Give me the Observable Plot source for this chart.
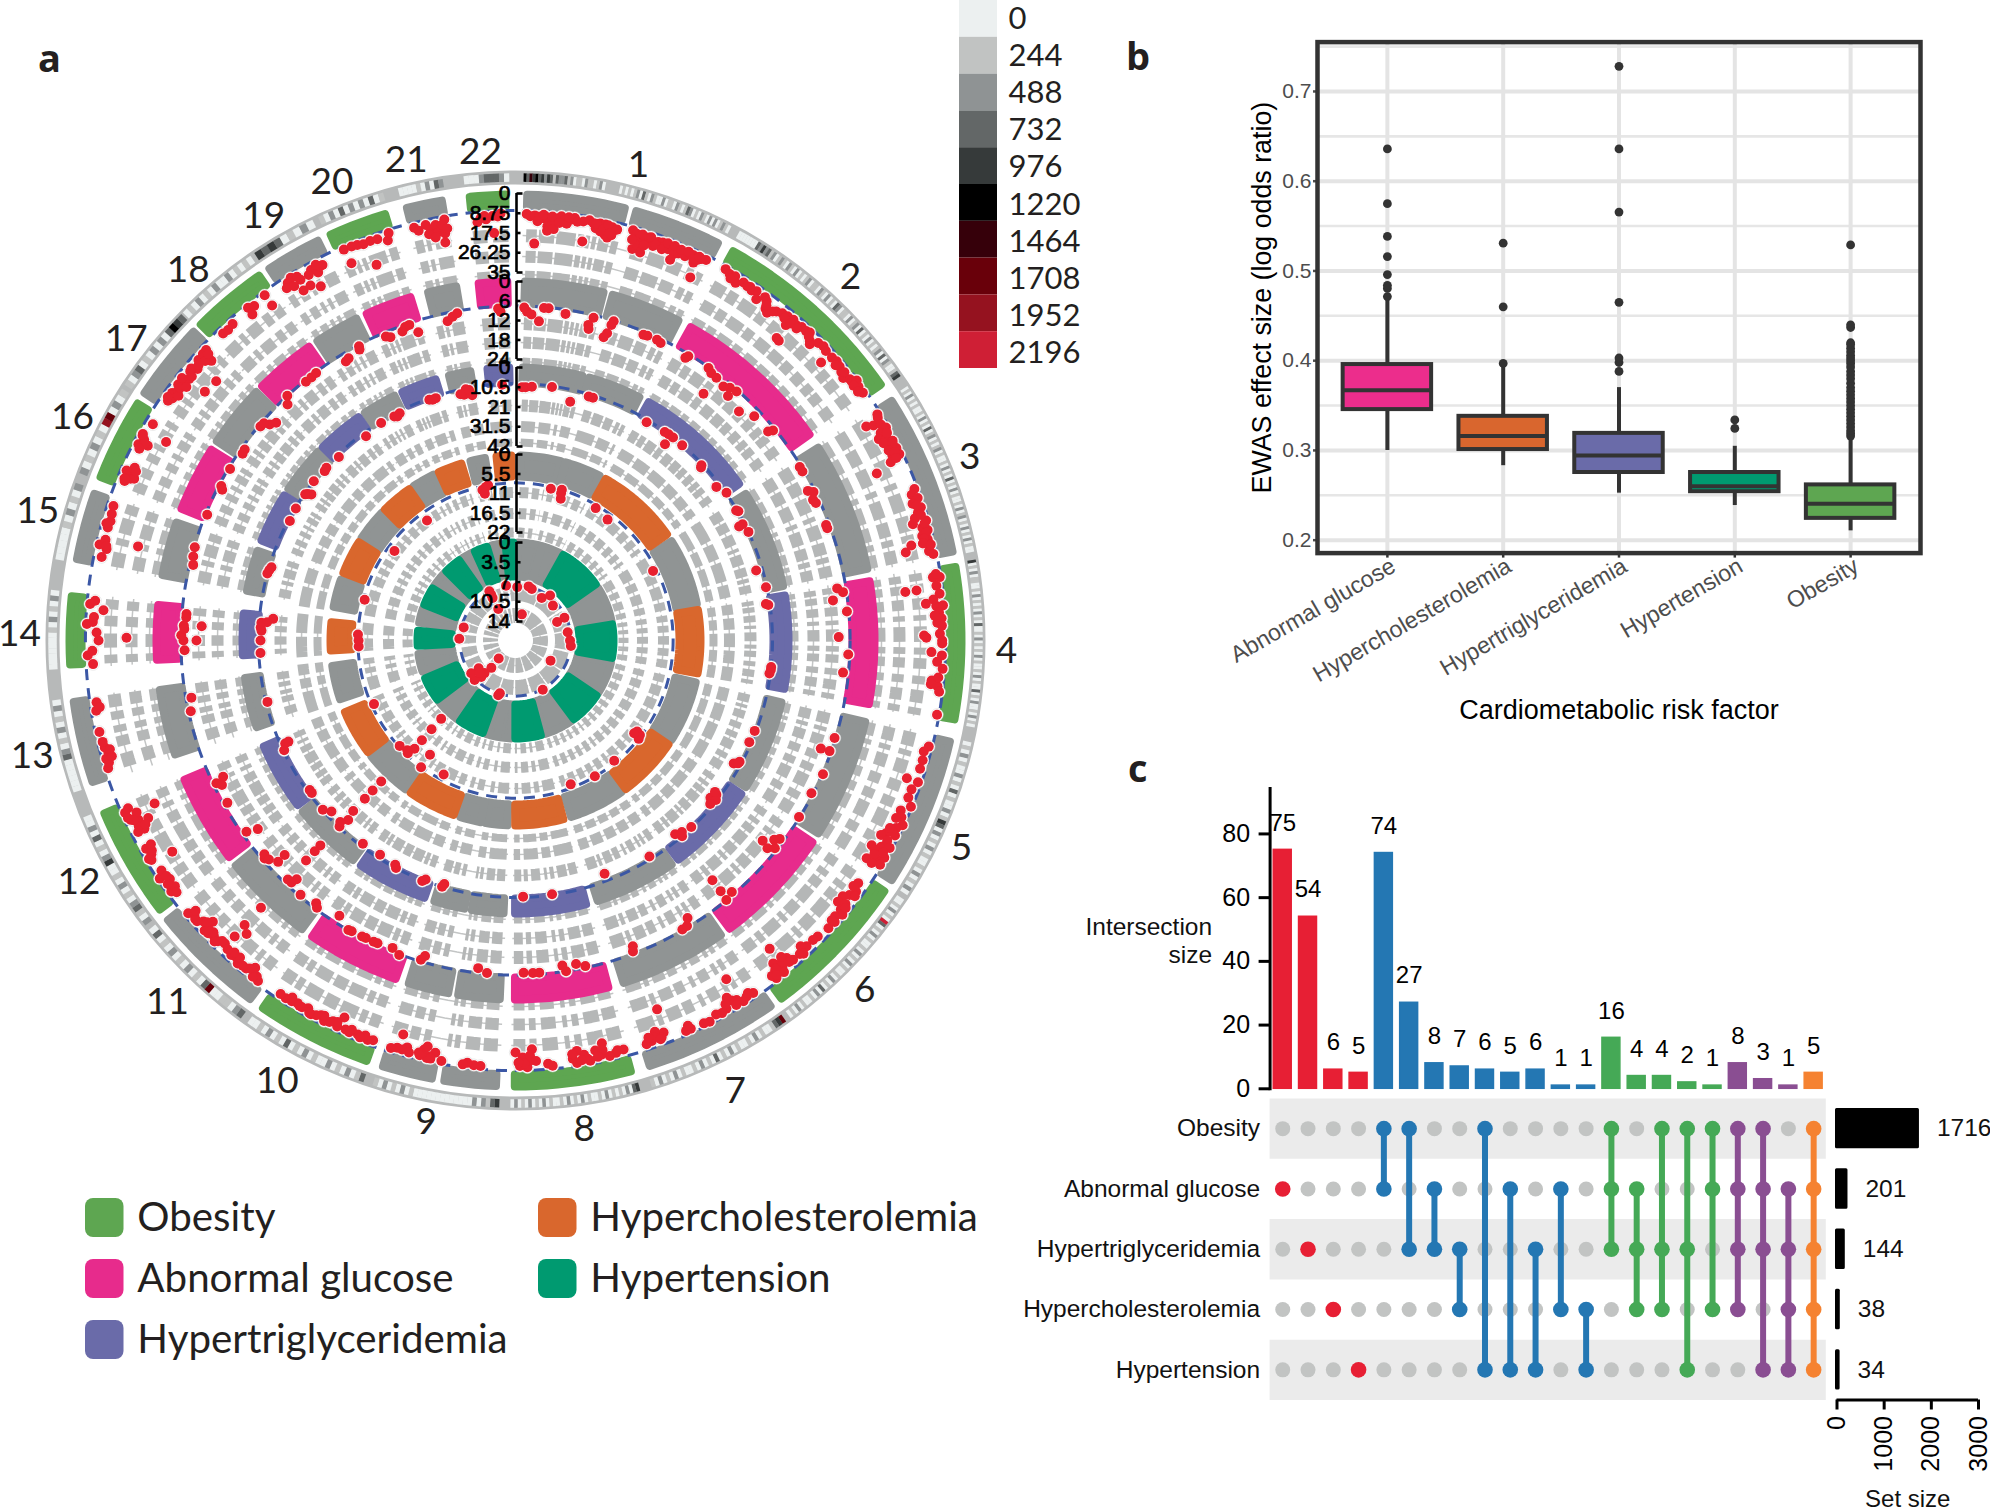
<!DOCTYPE html>
<html><head><meta charset="utf-8">
<script src="https://cdn.jsdelivr.net/npm/d3@7"></script>
<script src="https://cdn.jsdelivr.net/npm/@observablehq/plot@0.6"></script>
<style>
html,body{margin:0;padding:0;background:#fff}
#page{position:relative;width:1990px;height:1511px;overflow:hidden}
#page svg{position:absolute;background:transparent;overflow:visible}
.tag{position:absolute;font:700 38px "Open Sans",sans-serif;color:#231f20;line-height:1}
</style></head><body><div id="page"></div>
<script>
// ---------- panel a data ----------
const trackNames=["Obesity","Abnormal glucose","Hypertriglyceridemia","Hypercholesterolemia","Hypertension"];
const trackColors=["#5ea651","#e72b8c","#6a6ba9","#d9672d","#009a70"];
const sectorGray="#909494";
const trackZero=[447,359,273,186,98];
const trackMax=[35,24,42,22,14];
const trackSpan=[79,78,79,78,79];
const trackThreshold=[7.5,7.5,8.5,8,7.5];
const trackTicks=[["0","8.75","17.5","26.25","35"],["0","6","12","18","24"],["0","10.5","21","31.5","42"],["0","5.5","11","16.5","22"],["0","3.5","7","10.5","14"]];
const sectorBand=[[450,430],[363,333],[277,254],[189,160],[102,60]];
const rowRadius=[[405,384,366],[317,298,279],[235,214,198],[148,127,108],[47,25]];
const rowWidth=[[13,12,8],[13,12,8],[12,11,8],[11,11,10],[15,15]];
const chromLabels=["1","2","3","4","5","6","7","8","9","10","11","12","13","14","15","16","17","18","19","20","21","22"];
const chromParts=[[[1,14.7],[15.2,27.5]],[[28.7,55.5]],[[57,79]],[[80,100.7]],[[102.6,123]],[[123.7,143.9]],[[144.6,163]],[[164.5,180.6]],[[182,189.7],[190.3,197.8]],[[199,215]],[[216,231.7]],[[232.4,247.7]],[[251,262.6]],[[266.4,276.2]],[[280,289.7]],[[291,302.6]],[[303.2,314.3]],[[314.6,325.4]],[[326,334.2]],[[335,343.5]],[[345.4,351]],[[353.6,359.2]]];
const chromLabelAngle=[14.5,42.7,68,91.3,115,135,154,172,190.5,208.4,223.9,241,256.5,270.7,285.2,296.7,307.7,318.5,329.3,338.2,347.2,355.9];
const chromLabelRadius=[491,494,490,491,492,494,501,493,490,501,502,499,497,496,495,496,492,494,493,494,493,490];
const rowBlocks=[
[[1.5,3],[3.3,5.5],[5.8,8.5],[8.8,9.6],[9.9,10.5],[10.8,11.4],[11.7,13.2],[13.5,14.5],[16.5,18.5],[19,21.5],[22,24],[24.8,25.8],[26.2,27.2]],
[[29,31],[31.5,33],[33.6,36],[36.5,38],[38.8,41],[41.5,43.6],[44,45.6],[46.3,48],[48.6,50],[50.4,52],[53,54.8]],
[[57.5,60],[60.6,63],[63.8,66.5],[67.4,68.3],[69,71.6],[72.3,74.5],[75,76],[76.6,78.6]],
[[80.5,81.6],[82,83.3],[84,85.6],[86.4,87.2],[88,90.2],[91,92],[92.5,94],[95,96.2],[97,98.8],[99.5,100.5]],
[[103,105],[105.6,106.4],[107,109],[110,111.6],[112.5,114],[114.6,117],[118,119.5],[120.2,122.5]],
[[124,125.5],[126.4,127.4],[128,129.5],[130,132.4],[133,135],[135.6,136.4],[137,139.5],[140,141],[141.6,143.5]],
[[145,146.5],[147.2,148],[148.5,149.2],[150,151.6],[152.3,153],[154,155.5],[156,158],[158.7,159.5],[160,162.5]],
[[165,167],[167.5,169.8],[170.6,171.6],[172.3,173],[174,176.2],[177,178],[178.6,180.3]],
[[182.5,184.5],[185,187],[187.8,188.6],[189,189.6],[192,193],[193.6,195],[195.5,197.5]],
[[199.5,201],[201.5,202.5],[203,205.5],[206,208],[208.6,211],[211.6,212.6],[213,214.8]],
[[216.5,218],[218.6,219.4],[220,222],[222.5,224.8],[225.5,227],[227.6,229],[229.8,231.4]],
[[232.8,234.5],[235,236.4],[237,238.5],[239,241.5],[242,243.6],[244.4,245.2],[246,247.4]],
[[252,254],[255,256.5],[257,258],[258.8,260],[260.6,262.4]],
[[266.8,268],[269,271],[272,273.5],[274.4,275.8]],
[[280.4,282.5],[283.5,284.5],[285.2,287.4],[288,289.4]],
[[291.3,292.8],[293.6,295],[296,297.2],[298,298.8],[299.6,301],[301.5,302.4]],
[[303.6,305],[305.6,306.4],[307,308.5],[309,310.8],[311.4,312.4],[313,314]],
[[315,317],[317.6,318.4],[319,321],[321.8,323],[323.6,325]],
[[326.4,327.4],[328,329.2],[329.8,330.4],[331,331.6],[332.2,334]],
[[335.4,336.6],[337,337.6],[338,338.6],[339,341.5],[342,343.2]],
[[345.8,347],[347.4,348],[348.6,350.8]],
[[354,356],[356.8,359]]];
const ideogramLevels=[
"5364534243132231201102110120.....0101012031021002011021013201021020201210",
"0000000324231201210210201012011021020103201102012030102010120302100134",
"01020101001020103012010120100102010301020100102012010201020100",
"4010201100102010102010300102010102010010201003010200102010",
"0102010020103010020143020102010010201020",
"001020109301020100102010201001020103020100102010",
"7431001020100102010301020100102010201",
"4302010102010010201020100102010201020",
"4312020000000000000102010201",
"3102010200102010301020100",
"3201100730102010201030",
"20132010201004201030200",
"00000032010201020",
"000000010201020",
"000001020102",
"20102010870201",
"102301020203543",
"0102010200201010",
"434301020",
"1020302020301",
"0000102032",
"000233320"];
const levelColors=["#ecf0f0","#c1c3c2","#8f9394","#636767","#363a3a","#000000","#36000a","#69000a","#95121f","#cf1f35"];
const legendValues=["0","244","488","732","976","1220","1464","1708","1952","2196"];
const hits1=[[1.5,9],[2,10],[2.6,9.5],[3.2,10],[3.8,10.5],[4.3,10],[4.6,12],[4.4,14],[4.4,16],[5,13],[5.3,15],[5.8,10],[6.2,9],[6.6,10.5],[7,12],[7.5,10],[8,9],[8.4,10.5],[10,9],[10.6,10],[11,12],[11.5,9.5],[12.2,9.5],[12.8,11],[13.2,10],[13.6,11],[13.9,10.5],[12.4,14],[12.8,15],[13.3,13.5],[11.7,13],[9.5,18.8],[2.7,22],
[3,12],[3.8,9],[5,9.5],[6,12],[7.2,9],[9.2,10],[11,10],[12,12],[12.6,9.5],[13,13],
[16,9],[16.6,10],[17,12],[16.6,17],[17.2,15],[17.8,17.5],[17.8,12],[18.3,10],[18.8,11],[19.2,13],[19.7,10.5],[20.3,10],[20.8,11],[21.3,12],[21.9,11],[22.3,13],[22.1,16],[22.8,12],[23.3,11],[23.8,12],[24.3,10],[24.8,10],[25.2,13],[25.6,11],[26,10],[26.6,9.5],[25.7,19.5],
[16.2,13],[17.4,9.5],[18,14],[18.6,9.5],[19.5,12],[20.5,13],[21,9.5],[22,9.5],[23,10],[24,9.5],[25,11.5],[25.6,9.5],
[29.5,9],[30.3,10],[31.1,9.6],[31.6,12],[32.5,10],[33.2,10.5],[34,11],[34.6,10],[35.2,13],[36,10],[36.5,11],[37,14],[37.5,15],[38.4,12],[39.2,11],[40,10.5],[40.9,10],[40.6,14],[41.6,11],[42.4,10],[43.2,10],[43.7,9.3],[44.5,12],[44.8,13],[45.5,10],[46.3,9.3],[47,10],[47.7,15],[48.2,10],[49,9.5],[49.8,10],[50.5,11],[51.3,12],[52,10],[52.7,8],[53.5,9],[54.5,9],[40.8,21],[41.3,21.3],
[30.7,11.5],[33.6,10],[36.8,12.5],[38,13],[39.8,12],[41,12],[42,12],[44,11],[49.3,11],[50.8,10],[52.4,10],[53,10.5],[54,10.5],
[58,9],[58.4,9.6],[58.6,16],[59,13],[59.4,10],[60.1,8.7],[60.4,12],[61,14],[61.5,11],[62.1,9],[62.6,11],[63.2,9],[63.8,12],[64.1,9],[64.6,14],[65.2,21.7],[69.2,9],[69.8,11],[70.5,9],[71,12],[71.8,9],[72.4,11],[73,13],[73.7,14.6],[73.7,8.5],[74.5,11],[75,9],[75.6,12],[76.2,10],[76.9,10],[77.3,20.8],[76.5,17.7],[77.8,10.6],[78.3,9],
[60.8,9.5],[61.8,13],[62.4,9.5],[63,12.5],[63.6,10.5],[64.4,11],[71.4,10.5],[72.8,10],[74,9.5],[75.3,10],[76,11.5],[76.6,12.5],[77,9.2],
[81.4,11],[81.5,8],[82.6,10],[83.7,9],[84.9,15.5],[85.3,11],[85.3,8],[86.2,10],[87,9],[87.6,11],[82.9,24],[82.9,19],[89.3,17],[89.1,10],[90.4,9],[90,9],[91.6,13.7],[92,9],[92.9,11],[93.8,8.4],[95.5,12.8],[96.2,10],[96.9,9],[100,8.4],[89.6,16],
[81,9.5],[84.4,12],[86.6,12],[95,10],[96,13],[88,9],
[104.4,9],[105.2,10.6],[106.4,10],[107.6,10],[109.4,14.2],[109.4,9],[110.6,10.6],[111.8,10.6],[112.8,8],[113.8,11.5],[114.6,10],[115.5,8],[116.2,10],[116.9,10.6],[117.5,13],[118,14.6],[118.9,10.6],[119.9,16],[119.4,12],[120.5,8.4],[121.2,11],[121.8,15],[121.6,8.4],[120.2,14],
[117.2,9],[118.3,11],[119,8.5],[120,10],[120.8,13],[122,12],[116.6,12.5],[115,12],
[125.3,12],[126.4,10.6],[127.3,12],[128,14],[129,14.2],[129.6,11],[130,9],[130.8,11],[131.4,9.5],[132.6,9.7],[134.4,10.6],[135.2,11],[136.4,11],[137,12.8],[137.8,10.5],[139,10.6],[139.5,13],[140,13.7],[140.5,21],[140.8,11],[141.4,15],[141.8,12],[142.3,9],[142.6,11],
[126,13],[127,9.8],[128.6,11],[129,9.8],[131.5,11],[137.4,9.5],[139.6,11],[140.4,13],[141,9],[141.6,12.5],[142,10],[140,15],
[146,9.7],[147,10],[147.7,9],[148.4,11],[149,12],[149.4,14.2],[148.1,21.3],[150.2,10],[151,9.3],[151.8,10],[153,8.5],[153.8,9],[155.7,9.3],[156.4,9.3],[159.3,12.4],[159,23],[159.8,10.6],[160.4,14],[161.2,10.6],[162,10],
[146.6,11],[148.8,9.2],[150,12],[155.9,11],[160.8,11.8],[160,10],[161.5,12.5],
[165.2,10.6],[166.3,10],[167.2,9.3],[167.9,15.5],[168.3,10.6],[169,13],[169.9,8.9],[170.6,12],[171.5,14.2],[171.7,8.9],[172.2,11],[175,8.9],[175.6,10],[177.7,16.8],[178.4,8.9],[177.8,12],[178.6,12],[179,13.3],[180,15.5],[179.4,9.5],
[166,11],[168,12.5],[168.8,10],[170.2,10],[171,9.8],[172.2,13],[178,14],[178.8,10.5],[177.2,11.5],[179.6,11],
[184.7,8.9],[185.6,9],[186.5,9.7],[187.1,8.8],[190,8.9],[191,12],[191.6,10],[192.6,12.4],[192,8.9],[193.2,10.5],[194.9,11.5],[195.5,10],[195.9,16.5],[196.2,10.2],[197,9.3],
[191.5,9],[193,9.5],[194.5,9.5],[192.2,14],
[199.6,10],[200.3,9.3],[201,10],[201.8,10],[202.8,11],[203.6,10],[204.4,14.6],[204.8,9.7],[205.6,11],[206.7,9.3],[207.4,11],[208.7,9.3],[209.4,11],[210.2,10],[211,10.6],[211.8,10],[212.7,9.7],[213.6,10],
[200.8,10.8],[201.4,9.2],[203,9.5],[205,11.5],[206,10],[207,11.5],[208,10],[209,9.5],[210.6,10],[212,11.5],
[217.1,8.9],[217.6,10.2],[218.5,12.8],[219.4,10],[220.7,9.3],[221.4,11],[222.1,10.2],[223.6,24],[223.6,34.5],[222.5,21.7],[223.5,17.3],[223.8,12],[224.7,10.6],[225.6,11],[226.4,10],[227.1,15],[227,9.7],[228,12],[228.6,10],[229.5,11],[230.2,9.3],
[218,9],[219,11],[220,10],[221,12],[222,12],[223,11],[224.3,12],[225,9.5],[226,12],[226.8,11.5],[227.6,13],[229,10],[229.8,12.5],
[233.9,9.3],[234.6,10.6],[235.4,12],[236.2,8.4],[237,11],[238.4,19.5],[238.9,9.7],[239.6,11],[240.6,10.2],[243.1,13.7],[243.1,10.6],[244.2,17.3],[245.7,22.6],[244.6,13],[245.6,13.7],[246.6,11],[246.2,9],[245,10],
[234.2,12],[235,10],[236,11.5],[239.2,9],[240,12],[240.8,13],[243.8,12],[244.8,11],[245.4,9.2],[243.6,15],[233.4,11],
[252.6,8.9],[253.3,10],[253.9,9.3],[254.7,11],[255.4,10],[256.2,9.7],[257.6,9.3],[260.5,9.7],[261.6,10.4],[260.9,11.5],[254,12],[255,12],
[266.8,10.6],[268,8.4],[268.6,10.5],[270,13.3],[270.4,25.7],[271.1,12.4],[272.2,8],[272.5,10.6],[273.2,11],[274.9,8.9],[274.2,15],[275.4,11],
[281.4,11],[282.6,12.4],[283,8.9],[283.8,11],[284,25.7],[285.5,10.6],[286.4,11],[287.4,10.6],[288.5,10.2],[283,12],[286,9.5],
[292.2,11],[292.8,13],[293.4,12],[294.4,12.8],[293.6,10],[297.5,9.7],[297.9,13.7],[298.4,11],[299,9.3],[299.6,20],[300.8,11],
[292.5,10.5],[293,14.5],[294,14],[298.8,9.5],[298,12],[297,11],
[304.6,11],[305.2,12],[305.8,10.5],[306.5,12],[307.2,10.4],[308,12],[308.7,12.8],[308.7,21.7],[309.6,11],[310.5,12.8],[310.9,22.6],[311.5,10.5],[312.5,10.2],[312.6,15],[313.2,10],
[305,10],[306,13.5],[307,12],[307.6,14],[308.2,10],[309.2,13],[310,10.5],[311,12],[312,13],[313,12],
[316.4,10.2],[317.2,10.6],[318.2,10],[321.2,8.9],[321.1,12.4],[322,10],[324,9],[324,14.6],
[327.5,10.2],[328.2,9],[328.8,16.8],[329.2,12],[330,16.4],[331.2,19],[331.1,10.6],[331.8,13],[332.4,11],[332.8,11],[327,12],[328,13],[329,10],[330.5,12],[332,9.5],
[336.3,8.9],[336.5,15.8],[337.4,9],[338.2,9.3],[339,10],[340,9.7],[339.7,20.6],[341,10],[342.3,12],[342.7,9],
[346.2,9.7],[346.7,11.5],[347.8,9.7],[348.4,12],[349.1,10.6],[349.1,14.2],[349.8,12],[350.4,8.9],[350,19],[350.2,15],[348,14],[348.8,16],[350,11],[350.6,13],
[355.3,10.2],[356,11],[356.9,9.7],[357.6,10],[358,8.7],[357,17.3],[354.8,12],[355.8,9.5]];
const hits2=[[2,9.2],[1.5,8],[2.8,10],[4.9,7.8],[4.2,12],[5.7,7.7],[8.7,8.8],[13.6,8.3],[13,10.8],[13.2,12],[17.1,7.7],[16.6,11.8],[16.2,13.3],[16.9,9],[22.7,8.5],[23.4,8.3],[25.2,8.2],[26,8.6],
[31.3,8.1],[31,9],[35.3,7.7],[36.2,8.5],[37.4,8.7],[40.3,8.5],[41,10.8],[39.3,9.5],[41.6,8],[37.3,15],[44.3,12],[46.8,9.7],[50.8,8.2],[50.4,9.6],
[58.6,8],[59.5,8],[62.9,9.4],[63.5,8],[64.7,9.2],[65.4,8.8],[69.6,8.5],[70.2,8.5],[81.6,8.6],[80.8,10.2],[82.8,12],[85,8.1],[89.4,11],[92.4,8],[95.6,9.2],
[107,7.8],[109.5,10.8],[109.4,8],[113.5,7.3],[117.3,8],[121.9,7.7],
[126.9,8.8],[129,12.6],[128.7,8.2],[129.5,10],[127.6,10],[139.3,8.4],[140.7,10.8],[140.9,7.6],[140.6,15],
[148.2,10],[150,7.8],[149,8],[159,9.7],[159.3,8.2],[167.9,8],[169.4,9.2],[171.3,7.5],[171.8,9.4],[177,8],[178.6,8.2],[175.9,8],
[184.9,7.8],[186.5,9],[196.5,8],[196,9.5],[200.3,7.3],[201.8,8.6],[204.5,8.1],[205.2,8],[206.7,8],[207.4,7.9],[210,7.6],[209.4,7.8],[212.6,9.9],
[217.2,9],[216.6,8],[220.2,8],[223.6,8.9],[222.5,10.8],[222.8,9],[223.6,23.4],[223.6,20.9],[223.6,17],
[227.1,13.5],[227,10.6],[229,8.2],[229.6,9],[228.4,9],[234.6,8.9],[233.8,12.2],[240.6,8.7],[244.5,8.5],[245,11.2],[243.8,9.8],
[257.7,8.2],[260,9.2],[268.3,8.6],[270,12.3],[270,8.3],[274.6,8.9],[274,8.9],[272.6,8.3],[272.6,13.8],[270.9,7.6],[272,8.5],
[283.2,8.6],[286.2,7.7],[284.6,8],[292.2,8],[297.7,8.2],[297.2,9],[301,8],[305.2,8.5],[304.4,8.7],[311.3,9.8],[312.3,10.9],[310,8],[310.8,8.2],[316,9.5],[317,7.5],[321,8],[322.2,8],[323.3,7.8],
[328.7,10],[329.4,9.6],[331.8,8.9],[332,7.9],[336.9,8.8],[337.6,9.5],[339.9,9.2],[340.6,8.2],[341.4,8],[342.5,11],[348,10],[349,9],[349.9,8.2],[357.4,9.2],[357,8.2]];
const hits3=[[2.3,10.4],[3.7,10],[1.5,10.4],[8.2,9],[12.9,14.9],[16.7,9.7],[17.7,9.7],[31,9.8],[35.6,8.8],[36.6,8.6],[37.8,8.5],[37.3,14],[40.5,8.7],[46.7,9.3],[47,10.3],[52.6,10.7],[55,8.2],[59.5,9],[59.9,8.2],[62.9,9.5],[63,11.7],[65,8.5],[73.8,11.9],[78,9],[81.7,10.6],[82,9.4],
[95.9,8.5],[97.4,9],[96.6,8.5],[110.7,9.2],[113.5,9.6],[118.4,9.7],[119.4,12],[118.9,10],[127.5,10.5],[128.9,12],[128.5,9],[127.2,12],[130,10],[136.7,8.9],[139.6,8.5],[140.5,11.7],[139,10.3],[148.2,10],[159.1,12.4],[171.8,8.8],[178.3,8.9],
[196.3,10.3],[196.6,8.5],[200.6,9.4],[201.2,8],[207.7,8.5],[208.2,9.8],[212.3,10.4],[216.9,10],[223.6,41.6],[223.6,35],[223.6,29],[223.6,20],[223,14.7],[223.4,9],[224,11],[227.1,11.6],[228.7,8.8],
[234,9.9],[233.2,9.9],[245.9,11],[246,13],[244.6,9],[256.1,9.3],[267.2,9.4],[270,9.6],[275.1,15.8],[274,9.7],[274.2,12.7],[272.2,10],[272.9,9.5],[286.7,9.7],[285.1,8.5],[286,9],[297.9,9.4],[301,8.9],[305.6,11.7],[305.2,10],[304.8,9],[308.3,8.5],[311.6,9.5],[312.4,9],[316.1,9.7],[323.8,10.6],[328.3,9.2],[331.6,9.7],[333,9.5],[332.2,10.5],[340.3,9.2],[341.8,9.5],[341,9.8],[348.2,11.7],[350,12.7],[349.5,9.7],[348.8,9],[347.4,11],[357,9]];
const hits4=[[13.1,8.5],[17.1,8],[17.7,10.5],[17.2,9],[31.2,8.8],[37.3,9.6],[63.2,9],[126.8,9.6],[128.6,8],[127.2,8.4],[128,10],[140.6,8.6],[149.7,8.1],[159,9],[208.2,9.6],[216.7,7.9],[216.8,12.2],[223.2,13.9],[223.4,18],[223.5,22],[223,10.7],[223.7,8.5],[224.6,9],[227.7,8.3],[245.8,8.7],[267.8,8.2],[270,8.2],[272.2,8],[285.1,8.4],[306.5,10],[323.6,10.4],[347.6,9],[349,8.4],[348.2,10.2],[350,8]];
const hits5=[[350.2,7.5],[1.8,7.9],[13.6,7.5],[17.6,7.8],[31.6,8.5],[37.5,7.3],[47,8.3],[65,7.8],[66,9.3],[81,8],[90,7.7],[95.7,7.5],[119.9,10.2],[151,7.4],[196.5,7.6],[197.5,7.2],[223,13],[221.4,10.9],[223.5,9.4],[233,9.2],[223.2,8.5],[226,7.3],[233.5,7.6],[228,8.8],[271.7,7.4],[284.2,7.9],[331.3,11],[13.7,12.6],[332,7.5],[331.7,8.8],[332,8.2]];
const allHits=[hits1,hits2,hits3,hits4,hits5];

// ---------- panel b data ----------
const riskFactors=["Abnormal glucose","Hypercholesterolemia","Hypertriglyceridemia","Hypertension","Obesity"];
const riskColors=["#ec2d8c","#d9662e","#6a6ba9","#009a70","#5ea651"];
const boxQ1=[.3455,.301,.2754,.254,.2243];
const boxMedian=[.367,.316,.2944,.26,.2406];
const boxQ3=[.3957,.338,.319,.2754,.2616];
const whiskerLow=[.30,.283,.2524,.2386,.2104];
const whiskerHigh=[.467,.394,.37,.3046,.3138];
const outlierLists=[
[.4714,.4805,.484,.496,.516,.5385,.575,.636],
[.397,.46,.531],
[.388,.398,.403,.465,.5656,.636,.728],
[.3245,.334],
[.316,.319,.322,.326,.33,.334,.338,.342,.346,.35,.354,.358,.362,.366,.37,.375,.38,.384,.388,.393,.397,.4,.403,.406,.41,.414,.418,.42,.437,.44,.529]];
const majorTicks=[.2,.3,.4,.5,.6,.7];
const minorTicks=[.25,.35,.45,.55,.65,.75];

// ---------- panel c data ----------
const setNames=["Obesity","Abnormal glucose","Hypertriglyceridemia","Hypercholesterolemia","Hypertension"];
const setSizes=[1716,201,144,38,34];
const intersectionSizes=[75,54,6,5,74,27,8,7,6,5,6,1,1,16,4,4,2,1,8,3,1,5];
const intersectionColors=["#e71f34","#e71f34","#e71f34","#e71f34","#2477b3","#2477b3","#2477b3","#2477b3","#2477b3","#2477b3","#2477b3","#2477b3","#2477b3","#45a956","#45a956","#45a956","#45a956","#45a956","#8a4e92","#8a4e92","#8a4e92","#f58231"];
const intersectionMembers=[[1],[2],[3],[4],[0,1],[0,2],[1,2],[2,3],[0,4],[1,4],[2,4],[1,3],[3,4],[0,1,2],[1,2,3],[0,2,3],[0,2,4],[0,1,3],[0,1,2,3],[0,1,2,4],[1,2,3,4],[0,1,2,3,4]];

// ---------- helpers ----------
const page=document.getElementById("page");
function place(left,top,opts){
  const svg=Plot.plot({marginLeft:0,marginRight:0,marginTop:0,marginBottom:0,color:{type:"identity"},
    style:{background:"transparent",fontFamily:'"Liberation Sans",Arial,sans-serif',overflow:"visible"},...opts});
  svg.style.left=left+"px";svg.style.top=top+"px";page.appendChild(svg);
}
const rad=d=>d*Math.PI/180;
const polarX=(deg,R)=>R*Math.sin(rad(deg));
const polarY=(deg,R)=>R*Math.cos(rad(deg));
function arc(a,b,R,step=1.5){
  const n=Math.max(1,Math.ceil((b-a)/step)),out=[];
  for(let i=0;i<=n;i++){const d=a+(b-a)*i/n;out.push({x:polarX(d,R),y:polarY(d,R)});}
  return out;
}
const radiusOf=(t,v)=>trackZero[t]-v*trackSpan[t]/trackMax[t];
// Probes are merged on the shorter inner rings, where the picture shows fewer, longer blocks,
// and the white gap between two blocks is held to a width in pixels.
function blocksForRow(R){
  const merge=R>230?1:R>100?2:99, minGap=R>230?1.2:R>100?3.5:1.2, maxGap=R>230?40:R>100?7:3;
  const out=[];
  rowBlocks.forEach((list,c)=>{
    for(let i=0;i<list.length;i+=merge){
      const g=list.slice(i,i+merge);
      out.push({a:g[0][0],b:g[g.length-1][1],c});
    }
  });
  const toDeg=px=>px/R*180/Math.PI;
  for(let i=0;i<out.length-1;i++){
    const p=out[i],q=out[i+1],gap=q.a-p.b,px=gap/toDeg(1);
    const want=Math.min(maxGap,Math.max(minGap,px));
    const mid=(p.b+q.a)/2,half=toDeg(want)/2;
    p.b=mid-half;q.a=mid+half;
  }
  return out;
}
// ---------- panel a marks ----------
const aMarks=[];
aMarks.push(Plot.dot([0],{x:()=>0,y:()=>0,r:463,fill:"none",stroke:"#b7b9b9",strokeWidth:14}));
const cells=[];
ideogramLevels.forEach((s,c)=>{
  const a=chromParts[c][0][0],b=chromParts[c][chromParts[c].length-1][1],w=(b-a)/s.length;
  [...s].forEach((ch,i)=>{ if(ch==="."){return;}
    cells.push({a:a+i*w,b:a+(i+1)*w+0.03,c:levelColors[+ch]});});
});
aMarks.push(Plot.link(cells,{x1:d=>polarX(d.a,463),y1:d=>polarY(d.a,463),x2:d=>polarX(d.b,463),y2:d=>polarY(d.b,463),stroke:"c",strokeWidth:8.5}));
rowRadius.forEach((rows,t)=>rows.forEach((R,r)=>{
  const base=[],blocks=[];
  chromParts.forEach((parts,c)=>{
    const a=parts[0][0],b=parts[parts.length-1][1];
    arc(a,b,R).forEach(p=>base.push({...p,id:c}));
  });
  blocksForRow(R).forEach((bl,k)=>arc(bl.a,bl.b,R).forEach(p=>blocks.push({...p,id:k})));
  aMarks.push(Plot.line(base,{x:"x",y:"y",z:"id",stroke:"#c3c5c5",strokeWidth:1.5,strokeLinecap:"butt"}));
  aMarks.push(Plot.line(blocks,{x:"x",y:"y",z:"id",stroke:"#b5b7b7",strokeWidth:rowWidth[t][r],strokeLinecap:"butt",strokeLinejoin:"miter"}));
}));
// chromosome sectors: a fixed angular inset, then a constant-width rounded outline
const inset=4,angInset=inset/450*180/Math.PI;
sectorBand.forEach((band,t)=>{
  const gray=[],col=[];
  chromParts.forEach((parts,c)=>parts.forEach((p,k)=>{
    const pts=[...arc(p[0]+angInset,p[1]-angInset,band[0]-inset),...arc(p[0]+angInset,p[1]-angInset,band[1]+inset).reverse()].map(q=>({...q,id:c+"-"+k}));
    (c%2?col:gray).push(...pts);
  }));
  aMarks.push(Plot.line(gray,{x:"x",y:"y",z:"id",curve:"linear-closed",fill:sectorGray,stroke:sectorGray,strokeWidth:inset*2}));
  aMarks.push(Plot.line(col,{x:"x",y:"y",z:"id",curve:"linear-closed",fill:trackColors[t],stroke:trackColors[t],strokeWidth:inset*2}));
});
// thresholds
trackThreshold.forEach((v,t)=>aMarks.push(Plot.dot([0],{x:()=>0,y:()=>0,r:radiusOf(t,v),fill:"none",stroke:"#3b57a5",strokeWidth:3,strokeDasharray:"11,8"})));
// hits
const hitRows=allHits.flatMap((h,t)=>h.map(([d,v])=>({x:polarX(d,radiusOf(t,v)),y:polarY(d,radiusOf(t,v))})));
aMarks.push(Plot.dot(hitRows,{x:"x",y:"y",r:6.2,fill:"#ffffff",stroke:"#d8d8d8",strokeWidth:.5}));
aMarks.push(Plot.dot(hitRows,{x:"x",y:"y",r:5,fill:"#e8202f"}));
// track axes
trackTicks.forEach((labels,t)=>{
  const vals=labels.map(Number),X=1;
  aMarks.push(Plot.ruleX([X],{y1:radiusOf(t,0),y2:radiusOf(t,trackMax[t]),stroke:"#000",strokeWidth:2.6}));
  aMarks.push(Plot.link(vals,{x1:()=>X,x2:(d,i)=>(i===0||i===vals.length-1)?X+6:X+4,y1:d=>radiusOf(t,d),y2:d=>radiusOf(t,d),stroke:"#000",strokeWidth:2.6}));
  aMarks.push(Plot.text(labels,{x:()=>-5,y:d=>radiusOf(t,+d),text:d=>d,textAnchor:"end",fontSize:21,fontWeight:500,fill:"#000",fontFamily:'"Liberation Sans",sans-serif',stroke:"#000",strokeWidth:.7}));
});
// chromosome labels
aMarks.push(Plot.text(chromLabels,{x:(d,i)=>polarX(chromLabelAngle[i],chromLabelRadius[i]),y:(d,i)=>polarY(chromLabelAngle[i],chromLabelRadius[i]),text:d=>d,fontSize:37,fontFamily:"Lato,sans-serif",fill:"#231f20"}));
place(0,100,{width:1040,height:1060,x:{domain:[-515,525],range:[0,1040],axis:null},y:{domain:[-520,540],range:[1060,0],axis:null},marks:aMarks});

// density legend
place(959,0,{width:110,height:368,marginRight:72,x:{domain:[0,1],axis:null},y:{domain:[0,10],range:[0,368],axis:null},marks:[
  Plot.rect(legendValues,{x1:()=>0,x2:()=>1,y1:(d,i)=>i,y2:(d,i)=>i+1,fill:(d,i)=>levelColors[i]}),
  Plot.text(legendValues,{x:()=>1,y:(d,i)=>i*1.01+.5,text:d=>d,dx:11,textAnchor:"start",fontSize:31,fontFamily:"Lato,sans-serif",fill:"#231f20"})
]});

// trait legend
const legendCols=[0,1,0,1,0],legendRows=[0,0,1,1,2];
const legendOrder=["Obesity","Hypercholesterolemia","Abnormal glucose","Hypertension","Hypertriglyceridemia"];
const legendOrderColors=["#5ea651","#d9672d","#e72b8c","#009a70","#6a6ba9"];
place(85,1198,{width:910,height:162,x:{domain:[0,1],range:[0,453],axis:null},y:{domain:[0,2],range:[0,122],axis:null},marks:[
  Plot.rect(legendOrder,{x1:(d,i)=>legendCols[i],x2:(d,i)=>legendCols[i]+.085,y1:(d,i)=>legendRows[i],y2:(d,i)=>legendRows[i]+.64,fill:(d,i)=>legendOrderColors[i],rx:8}),
  Plot.text(legendOrder,{x:(d,i)=>legendCols[i]+.12,y:(d,i)=>legendRows[i]+.32,text:d=>d,dx:-2.5,textAnchor:"start",fontSize:40.3,fontFamily:"Lato,sans-serif",fill:"#231f20"})
]});

// ---------- panel b ----------
const boxes=riskFactors.map((n,i)=>({n,q1:boxQ1[i],med:boxMedian[i],q3:boxQ3[i],lo:whiskerLow[i],hi:whiskerHigh[i],c:riskColors[i]}));
const outliers=riskFactors.flatMap((n,i)=>outlierLists[i].map(v=>({n,v})));
place(1180,20,{width:810,height:720,marginLeft:137,marginRight:70,marginTop:21.6,marginBottom:187.4,
  x:{type:"band",domain:riskFactors,paddingInner:.236,paddingOuter:.2215,round:false,axis:null},
  y:{domain:[.1856,.755],axis:null},marks:[
  Plot.ruleY(minorTicks.filter(d=>d<.755),{stroke:"#e6e6e6",strokeWidth:2.6}),
  Plot.ruleY(majorTicks,{stroke:"#e4e4e4",strokeWidth:4}),
  Plot.ruleX(riskFactors,{x:d=>d,stroke:"#e4e4e4",strokeWidth:4}),
  Plot.axisY({ticks:majorTicks,tickFormat:".1f",tickSize:4,tickPadding:2,fontSize:21,color:"#4d4d4d",label:null,strokeWidth:2.5}),
  Plot.axisX({tickSize:5,tickFormat:()=>"",color:"#333",label:null,strokeWidth:2.5}),
  Plot.ruleX(boxes,{x:"n",y1:"lo",y2:"hi",stroke:"#333",strokeWidth:4}),
  Plot.barY(boxes,{x:"n",y1:"q1",y2:"q3",fill:"c",stroke:"#333",strokeWidth:4}),
  Plot.tickY(boxes,{x:"n",y:"med",stroke:"#333",strokeWidth:4}),
  Plot.dot(outliers,{x:"n",y:"v",r:4.4,fill:"#333"}),
  Plot.frame({stroke:"#333",strokeWidth:4.5}),
  Plot.text(riskFactors,{x:d=>d,y:()=>.1856,text:d=>d,rotate:-30,textAnchor:"end",dx:6,dy:11,fontSize:23.2,fill:"#4d4d4d"}),
  Plot.text(["Cardiometabolic risk factor"],{frameAnchor:"bottom",lineAnchor:"middle",dy:157,fontSize:27,fill:"#000"}),
  Plot.text(["EWAS effect size (log odds ratio)"],{frameAnchor:"left",textAnchor:"middle",lineAnchor:"middle",rotate:-90,dx:-55,fontSize:26.8,fill:"#000"})
]});

// ---------- panel c: intersection bars ----------
const cols=d3.range(intersectionSizes.length);
place(1080,780,{width:780,height:320,marginLeft:189.6,marginRight:34.2,marginTop:8,marginBottom:11.7,
  x:{type:"band",domain:cols,paddingInner:.29,paddingOuter:.145,round:false,axis:null},
  y:{domain:[0,94.26],axis:null},marks:[
  Plot.barY(cols,{x:d=>d,y:d=>intersectionSizes[d],fill:d=>intersectionColors[d],stroke:d=>intersectionColors[d],strokeWidth:1.5}),
  Plot.frame({anchor:"left",stroke:"#000",strokeWidth:3}),
  Plot.axisY({ticks:[0,20,40,60,80],tickSize:11,tickPadding:9,fontSize:25,color:"#000",label:null,strokeWidth:3}),
  Plot.text(cols,{x:d=>d,y:d=>intersectionSizes[d],text:d=>String(intersectionSizes[d]),dy:-27,fontSize:24,fill:"#000"}),
  Plot.text(["Intersection\nsize"],{frameAnchor:"left",y:()=>46.6,dx:-58,textAnchor:"end",fontSize:24.5,lineHeight:1.13,fill:"#111"})
]});

// matrix
const rowsIdx=d3.range(setNames.length);
const matrixCells=cols.flatMap(c=>rowsIdx.map(r=>({c,r,on:intersectionMembers[c].includes(r)})));
const connectors=cols.filter(c=>intersectionMembers[c].length>1).map(c=>({c,a:d3.min(intersectionMembers[c]),b:d3.max(intersectionMembers[c])}));
place(980,1090,{width:860,height:320,marginLeft:289.6,marginRight:14.2,marginTop:8,marginBottom:10.5,
  x:{domain:[-.5,21.5],axis:null},y:{domain:[4.5,-.5],axis:null},marks:[
  Plot.ruleY([0,2,4],{stroke:"#ebebeb",strokeWidth:60.3}),
  Plot.dot(matrixCells.filter(d=>!d.on),{x:"c",y:"r",r:7.5,fill:"#c2c4c3"}),
  Plot.ruleX(connectors,{x:"c",y1:"a",y2:"b",stroke:d=>intersectionColors[d.c],strokeWidth:6}),
  Plot.dot(matrixCells.filter(d=>d.on),{x:"c",y:"r",r:7.8,fill:d=>intersectionColors[d.c]}),
  Plot.axisY({ticks:rowsIdx,tickFormat:i=>setNames[i],tickSize:0,tickPadding:10,fontSize:24.5,color:"#111",label:null})
]});

// set sizes
place(1825,1090,{width:165,height:421,marginLeft:11.5,marginRight:12,marginTop:8,marginBottom:111.5,
  x:{domain:[0,3000],axis:null},y:{domain:[4.5,-.5],axis:null},marks:[
  Plot.rectX(setSizes,{x1:()=>0,x2:d=>d,y1:(d,i)=>i-.31,y2:(d,i)=>i+.31,fill:"#000",stroke:"#000",strokeWidth:3,strokeLinejoin:"round"}),
  Plot.text(setSizes,{x:d=>d,y:(d,i)=>i,text:d=>String(d),dx:19,textAnchor:"start",fontSize:24.5,fill:"#111"}),
  Plot.ruleY([4.5],{x1:0,x2:3000,stroke:"#000",strokeWidth:3}),
  Plot.axisX({anchor:"bottom",ticks:[0,1000,2000,3000],tickFormat:"d",tickSize:10,tickRotate:-90,tickPadding:6,fontSize:25,color:"#000",label:null,strokeWidth:3}),
  Plot.text(["Set size"],{frameAnchor:"bottom",lineAnchor:"middle",dy:99,fontSize:24,fill:"#111"})
]});

// panel tags
[["a",38,38],["b",1126,36],["c",1128,748]].forEach(([t,x,y])=>{
  const d=document.createElement("div");d.className="tag";d.textContent=t;d.style.left=x+"px";d.style.top=y+"px";page.appendChild(d);
});
</script></body></html>
